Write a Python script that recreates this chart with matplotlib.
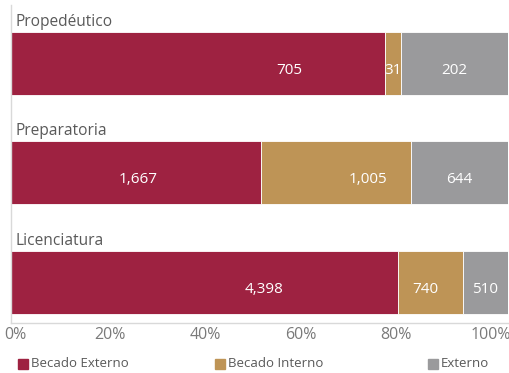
import numpy as np
import matplotlib
matplotlib.use("Agg")
import matplotlib.pyplot as plt
from matplotlib.patches import Rectangle

plt.rcParams['font.family'] = ['Open Sans', 'DejaVu Sans']

# datos por nivel
niveles = ["Propedéutico", "Preparatoria", "Licenciatura"]
series = ["Becado Externo", "Becado Interno", "Externo"]
becado_externo = [705, 1667, 4398]
becado_interno = [31, 1005, 740]
externo = [202, 644, 510]
ticks_pct = ["0%", "20%", "40%", "60%", "80%", "100%"]

colores = ["#9E2241", "#BE9456", "#9A9A9C"]
gris_txt = "#595959"

# corrimiento horizontal de cada etiqueta (fraccion del eje)
desp = np.array([[0.185, 0.0, 0.0],
                 [0.004, 0.064, 0.0],
                 [0.119, -0.01, 0.0]])

valores = np.array([becado_externo, becado_interno, externo]).T.astype(float)
totales = valores.sum(axis=1)
frac = valores / totales[:, None]

fig = plt.figure(figsize=(5.10, 3.73), dpi=100)
ax = fig.add_axes([11/510, 50/373, 497/510, 318/373])

y = np.arange(len(niveles))
alto = 0.575
izq = np.zeros(len(niveles))
for j in range(len(series)):
    ax.barh(y, frac[:, j], left=izq, height=alto, color=colores[j],
            edgecolor="white", linewidth=0.6)
    for i in range(len(niveles)):
        cx = izq[i] + frac[i, j] / 2 + desp[i, j]
        ax.text(cx, y[i] + 0.064, f"{int(valores[i, j]):,}", ha="center",
                va="center", color="white", fontsize=11)
    izq += frac[:, j]

for i, nom in enumerate(niveles):
    ax.text(0.01, y[i] - alto / 2 - 0.055, nom, ha="left", va="baseline",
            color=gris_txt, fontsize=11.2)

ax.set_xlim(0, 1)
ax.set_ylim(2.374, -0.53)
ax.set_yticks([])
ax.set_xticks(np.linspace(0.008, 0.966, 6))
ax.set_xticklabels(ticks_pct, color="#7A7A7A", fontsize=11.5)
ax.tick_params(axis="x", length=0, pad=3)
for s in ["top", "right"]:
    ax.spines[s].set_visible(False)
for s in ["left", "bottom"]:
    ax.spines[s].set_color("#D9D9D9")
    ax.spines[s].set_linewidth(1)

# leyenda manual
x_ley = [18, 215, 428]
for j, nom in enumerate(series):
    fig.patches.append(Rectangle((x_ley[j]/510, 4/373), 10/510, 10/373,
                                 transform=fig.transFigure,
                                 color=colores[j]))
    fig.text((x_ley[j] + 13)/510, 9.5/373, nom, ha="left", va="center",
             color=gris_txt, fontsize=9.5)

fig.savefig("out.png", dpi=100)
